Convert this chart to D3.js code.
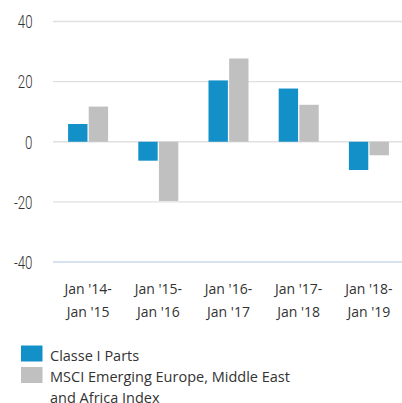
<!DOCTYPE html>
<html>
<head>
<meta charset="utf-8">
<script src="https://cdn.jsdelivr.net/npm/d3@7"></script>
<style>
  body { margin: 0; background: #fff; }
  text { fill: #333; }
</style>
</head>
<body>
<div class="graph"></div>
<script>
// categories and values
var periods = ["Jan '14-|Jan '15", "Jan '15-|Jan '16", "Jan '16-|Jan '17", "Jan '17-|Jan '18", "Jan '18-|Jan '19"];
var fund = [5.9, -6.3, 20.4, 17.7, -9.4];
var index = [11.7, -19.7, 27.7, 12.3, -4.5];
var series_names = ["Classe I Parts", "MSCI Emerging Europe, Middle East|and Africa Index"];
var y_ticks = [40, 20, 0, -20, -40];

var width = 402, height = 403;
var colors = ["#1490c9", "#c0c0c0"];

var svg = d3.select('.graph').append('svg')
    .attr('width', width)
    .attr('height', height);

var table = periods.map(function(p, i){
    return { period: p, values: [fund[i], index[i]] };
});

var yScale = d3.scaleLinear().domain([-40, 40]).range([262, 21.5]);
var x0 = d3.scaleBand().domain(periods).range([53, 404])
            .paddingInner(0.43).paddingOuter(0.215);
var x1 = d3.scaleBand().domain([0, 1]).range([0, x0.bandwidth()]).paddingInner(0.06);

// grid lines
svg.append('g').selectAll('line')
    .data(y_ticks)
    .enter().append('line')
    .attr('x1', 53).attr('x2', 402)
    .attr('y1', function(d){ return yScale(d); })
    .attr('y2', function(d){ return yScale(d); })
    .attr('stroke', function(d){ return d === -40 ? '#c9d8e8' : '#e0e0e0'; })
    .attr('stroke-width', 1.3);

// y tick labels (narrow font, squeezed)
svg.append('g').selectAll('text')
    .data(y_ticks)
    .enter().append('text')
    .attr('transform', function(d){ return 'translate(32.5,' + yScale(d) + ') scale(0.7,1)'; })
    .attr('dy', '0.36em')
    .attr('text-anchor', 'end')
    .attr('font-family', 'Roboto, sans-serif')
    .attr('font-weight', 300)
    .attr('font-size', '19px')
    .text(function(d){ return d; });

// bars
var groups = svg.append('g').selectAll('g')
    .data(table)
    .enter().append('g')
    .attr('transform', function(d){ return 'translate(' + x0(d.period) + ',0)'; });

groups.selectAll('rect')
    .data(function(d){ return d.values; })
    .enter().append('rect')
    .attr('x', function(d, i){ return x1(i); })
    .attr('width', x1.bandwidth())
    .attr('y', function(d){ return yScale(Math.max(0, d)); })
    .attr('height', function(d){ return Math.abs(yScale(d) - yScale(0)); })
    .attr('fill', function(d, i){ return colors[i]; });

// x labels, two lines
var xlab = svg.append('g').selectAll('text')
    .data(periods)
    .enter().append('text')
    .attr('text-anchor', 'middle')
    .attr('font-family', 'Open Sans, DejaVu Sans, sans-serif')
    .attr('font-size', '14px')
    .attr('transform', function(d){ return 'translate(' + (x0(d) + x0.bandwidth()/2) + ',0)'; });

xlab.selectAll('tspan')
    .data(function(d){ return d.split('|'); })
    .enter().append('tspan')
    .attr('x', 0)
    .attr('y', function(d, i){ return 294 + i*22.5; })
    .text(function(d){ return d; });

// legend
var legend = svg.append('g').selectAll('g')
    .data(series_names)
    .enter().append('g')
    .attr('transform', function(d, i){ return 'translate(21,' + (345.5 + i*21.5) + ')'; });

legend.append('rect')
    .attr('width', 21.5)
    .attr('height', 16)
    .attr('fill', function(d, i){ return colors[i]; });

legend.append('text')
    .attr('font-family', 'Open Sans, DejaVu Sans, sans-serif')
    .attr('font-size', '14.5px')
    .selectAll('tspan')
    .data(function(d){ return d.split('|'); })
    .enter().append('tspan')
    .attr('x', 29)
    .attr('y', function(d, i){ return 15 + i*20.5; })
    .text(function(d){ return d; });
</script>
</body>
</html>
